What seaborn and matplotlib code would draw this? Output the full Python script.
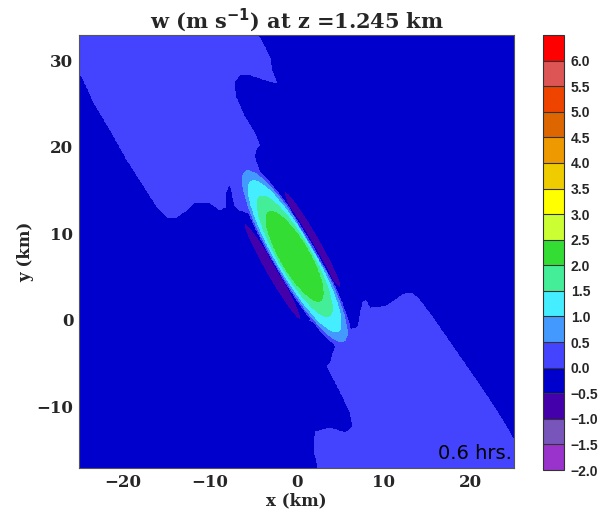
import numpy as np
import matplotlib
matplotlib.use("Agg")
import matplotlib.pyplot as plt
import seaborn as sns
from matplotlib.path import Path
from matplotlib.colors import ListedColormap, BoundaryNorm
from matplotlib.ticker import MultipleLocator

# ---------------- data ----------------
levels = np.arange(-2.0, 6.51, 0.5)
level_colors = ['#9933cc', '#7755bb', '#4400aa', '#0000cc', '#4444ff', '#4499ff',
                '#44eeff', '#44ee99', '#33dd33', '#ccff33', '#ffff00', '#eecc00',
                '#ee9900', '#dd6600', '#ee4400', '#dd5555', '#ff0000']
cbar_ticks = [-2.0, -1.5, -1.0, -0.5, 0.0, 0.5, 1.0, 1.5, 2.0, 2.5,
              3.0, 3.5, 4.0, 4.5, 5.0, 5.5, 6.0]
x_ticks = [-20, -10, 0, 10, 20]
y_ticks = [-10, 0, 10, 20, 30]
x_limits = [-25.0, 25.0]
y_limits = [-17.1, 32.9]

# plateau values of w outside the updraft core
w_background = -0.25
w_band = 0.25

# weak updraft band (upper part) outline, km
band_upper_x = [-26.0, -5.0, -3.11, -2.76, -2.30, -3.69, -5.30, -6.57, -7.14, -7.03,
                -5.99, -4.84, -4.26, -4.72, -4.84, -4.49, -3.0, -4.5, -6.57, -7.14,
                -7.6, -8.06, -8.18, -8.76, -9.91, -11.64, -12.9, -13.94, -14.86,
                -16.0, -17.5, -19.47, -21.43, -23.27, -24.65, -26.0]
band_upper_y = [34.0, 34.0, 30.4, 28.55, 27.4, 27.75, 28.3, 28.3, 27.5, 25.8,
                23.5, 21.6, 20.2, 19.65, 18.85, 17.7, 14.0, 12.0, 12.7, 13.3,
                15.8, 15.0, 13.06, 12.7, 13.5, 13.6, 12.5, 11.8, 11.9,
                13.06, 15.4, 18.5, 22.0, 25.1, 28.1, 29.6]
# weak updraft band (lower part) outline, km
band_lower_x = [1.5, 5.65, 7.03, 7.60, 7.95, 8.41, 10.25, 12.21, 13.13, 13.94,
                15.67, 17.97, 20.62, 22.93, 24.54, 25.12, 26.5, 26.5, 2.6,
                2.42, 2.0, 2.19, 3.80, 5.65, 6.45, 6.22, 4.95, 3.92, 3.57,
                3.92, 4.15, 4.49, 3.5]
band_lower_y = [0.0, -1.16, -0.92, 1.97, 2.2, 1.39, 1.5, 2.89, 3.12, 2.54,
                0.23, -3.12, -6.94, -10.4, -13.06, -14.2, -16.0, -18.5, -18.5,
                -16.76, -15.0, -12.95, -12.49, -13.06, -12.37, -10.75, -8.09, -6.13, -5.43,
                -4.86, -4.05, -3.12, -1.0]

# updraft core: nested contour ellipses (0.0, 0.5, 1.0, 1.5, 2.0 m/s), km
core_center_x, core_center_y = -0.2, 7.35
core_angle_deg = -60.0
core_ring_half_length = [12.3, 11.3, 10.0, 7.95, 5.9]
core_ring_half_width = [2.5, 2.35, 2.15, 1.9, 1.65]
core_ring_step = 0.5

# flanking downdraft lobes
lobe_center_x = [-2.75, 1.85]
lobe_center_y = [5.55, 9.3]
lobe_depth = 0.6
lobe_half_length = 6.85
lobe_half_width = 0.72

time_label = "0.6 hrs."

# ---------------- build the field ----------------
gx = np.linspace(x_limits[0], x_limits[1], 701)
gy = np.linspace(y_limits[0], y_limits[1], 701)
X, Y = np.meshgrid(gx, gy)
pts = np.column_stack([X.ravel(), Y.ravel()])

inside = np.zeros(X.size, dtype=bool)
for bx, by in [(band_upper_x, band_upper_y), (band_lower_x, band_lower_y)]:
    inside |= Path(np.column_stack([bx, by])).contains_points(pts)
W_bg = np.where(inside, w_band, w_background).reshape(X.shape)

th = np.deg2rad(core_angle_deg)
def rot(x0, y0):
    dx, dy = X - x0, Y - y0
    return dx * np.cos(th) + dy * np.sin(th), -dx * np.sin(th) + dy * np.cos(th)

u, v = rot(core_center_x, core_center_y)
core = np.full(X.shape, w_background)
for L, Wd in zip(core_ring_half_length, core_ring_half_width):
    core = core + core_ring_step * ((u / L) ** 2 + (v / Wd) ** 2 <= 1.0)
W = np.maximum(W_bg, core)
for lx, ly in zip(lobe_center_x, lobe_center_y):
    du, dv = rot(lx, ly)
    W = W - lobe_depth * np.exp(-(du / lobe_half_length) ** 2 - (dv / lobe_half_width) ** 2)

# ---------------- plot ----------------
sns.set_theme(style="white")
plt.rcParams['font.family'] = ['DejaVu Serif']

fig = plt.figure(figsize=(6.01, 5.16), dpi=100)
ax = fig.add_axes([79 / 601, 48 / 516, 435 / 601, 433 / 516])
cax = fig.add_axes([543 / 601, 46 / 516, 21 / 601, 435 / 516])

cmap = ListedColormap(level_colors)
norm = BoundaryNorm(levels, cmap.N)
cf = ax.contourf(X, Y, W, levels=levels, cmap=cmap, norm=norm)

ax.set_xlim(x_limits)
ax.set_ylim(y_limits)
ax.set_xticks(x_ticks)
ax.set_yticks(y_ticks)
ax.xaxis.set_minor_locator(MultipleLocator(2))
ax.yaxis.set_minor_locator(MultipleLocator(2))
ax.tick_params(which='both', direction='in', top=True, right=True, color='#333333')
ax.tick_params(which='major', length=7, width=0.8, labelsize=12, pad=4)
ax.tick_params(which='minor', length=3.5, width=0.6)
for lab in ax.get_xticklabels() + ax.get_yticklabels():
    lab.set_fontweight('bold')
for s in ax.spines.values():
    s.set_color('#555555')
    s.set_linewidth(0.8)

ax.set_xlabel("x (km)", fontsize=12, fontweight='bold', labelpad=1)
ax.set_ylabel("y (km)", fontsize=12, fontweight='bold', labelpad=2)
ax.set_title(r"w (m s$^{\mathbf{-1}}$) at z =1.245 km", fontsize=15, fontweight='bold', pad=5)
ax.text(0.995, 0.012, time_label, transform=ax.transAxes, ha='right', va='bottom',
        fontsize=14, family='DejaVu Sans', color='black')

cb = fig.colorbar(cf, cax=cax, ticks=cbar_ticks, drawedges=True)
cb.outline.set_edgecolor('#333333')
cb.outline.set_linewidth(0.8)
cb.dividers.set_color('#333333')
cb.dividers.set_linewidth(0.8)
cb.ax.minorticks_off()
cb.ax.tick_params(length=0, labelsize=10, pad=5)
cb.ax.set_yticklabels([f"{t:.1f}".replace('-', '\u2212') for t in cbar_ticks])
for lab in cb.ax.get_yticklabels():
    lab.set_fontweight('bold')
    lab.set_family('Liberation Sans')

fig.savefig("out.png", dpi=100)
